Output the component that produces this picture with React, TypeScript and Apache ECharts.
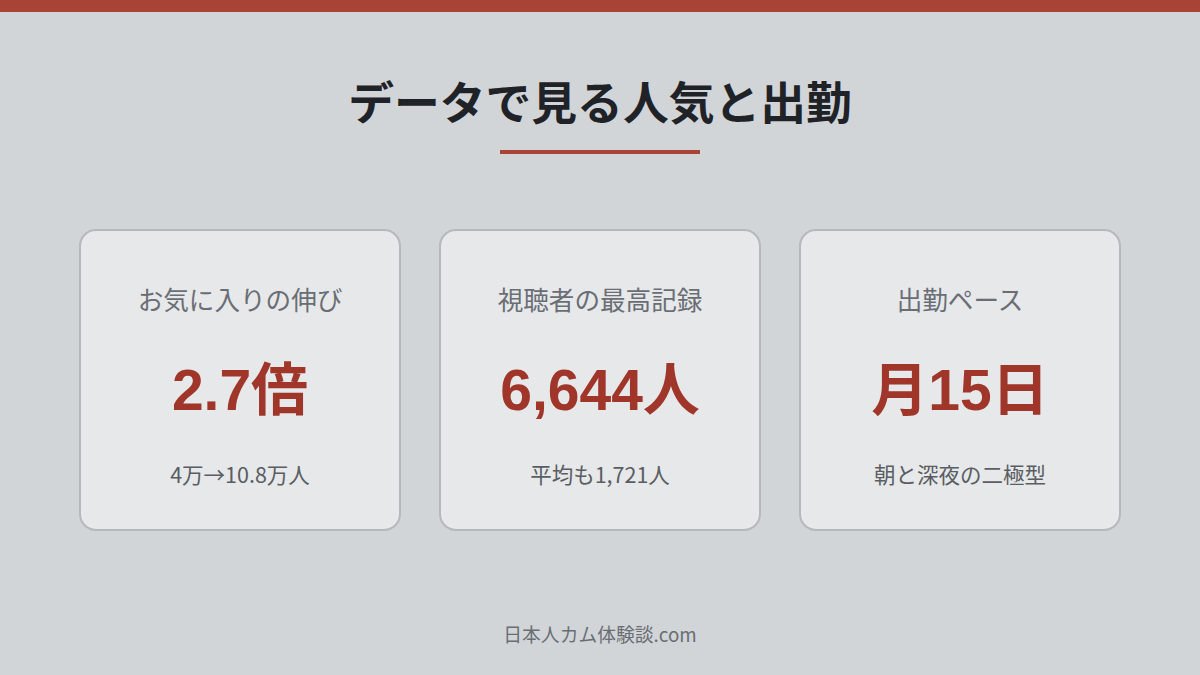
import React, { useEffect, useRef } from 'react'
import * as echarts from 'echarts'

const title = 'データで見る人気と出勤'
const cardLabels = ['お気に入りの伸び', '視聴者の最高記録', '出勤ペース']
const cardValues = ['2.7倍', '6,644人', '月15日']
const cardNotes = ['4万→10.8万人', '平均も1,721人', '朝と深夜の二極型']
const footer = '日本人カム体験談.com'

const JP = '"Noto Sans CJK JP", "Noto Sans", sans-serif'
const NUM = '"Liberation Sans", Arial, "Noto Sans CJK JP", sans-serif'

const App: React.FC = () => {
    const chartRef = useRef<HTMLDivElement | null>(null)

    useEffect(() => {
        document.body.style.margin = '0'
        const chart = echarts.init(chartRef.current!, undefined, { renderer: 'svg' })

        const cards = cardLabels.map((label, i) => {
            const cx = 240 + i * 360
            return {
                type: 'group',
                children: [
                    {
                        type: 'rect',
                        shape: { x: cx - 160, y: 230, width: 320, height: 300, r: 16 },
                        style: { fill: '#e6e8ea', stroke: '#b6b9bc', lineWidth: 2 },
                    },
                    {
                        type: 'text',
                        x: cx,
                        y: 298,
                        style: {
                            text: label,
                            fill: '#6a6e74',
                            font: `400 25.6px ${JP}`,
                            align: 'center',
                            verticalAlign: 'middle',
                        },
                    },
                    {
                        type: 'text',
                        x: cx,
                        y: 390,
                        style: {
                            text: cardValues[i],
                            fill: '#a0352a',
                            font: `700 57px ${NUM}`,
                            align: 'center',
                            verticalAlign: 'middle',
                        },
                    },
                    {
                        type: 'text',
                        x: cx,
                        y: 473,
                        style: {
                            text: cardNotes[i],
                            fill: '#5a5d62',
                            font: `400 21.5px ${JP}`,
                            align: 'center',
                            verticalAlign: 'middle',
                        },
                    },
                ],
            }
        })

        chart.setOption({
            animation: false,
            backgroundColor: '#d1d5d8',
            graphic: [
                {
                    type: 'rect',
                    shape: { x: 0, y: 0, width: 1200, height: 12 },
                    style: { fill: '#a84436' },
                },
                {
                    type: 'text',
                    x: 600,
                    y: 100,
                    style: {
                        text: title,
                        fill: '#1f2328',
                        font: `700 45.8px ${JP}`,
                        align: 'center',
                        verticalAlign: 'middle',
                    },
                },
                {
                    type: 'rect',
                    shape: { x: 500, y: 150, width: 200, height: 4 },
                    style: { fill: '#a84436' },
                },
                ...cards,
                {
                    type: 'text',
                    x: 600,
                    y: 633,
                    style: {
                        text: footer,
                        fill: '#6a6e74',
                        font: `400 18.8px ${JP}`,
                        align: 'center',
                        verticalAlign: 'middle',
                    },
                },
            ],
        })

        return () => {
            chart.dispose()
        }
    }, [])

    return <div ref={chartRef} style={{ width: '1200px', height: '675px' }} />
}

export default App
